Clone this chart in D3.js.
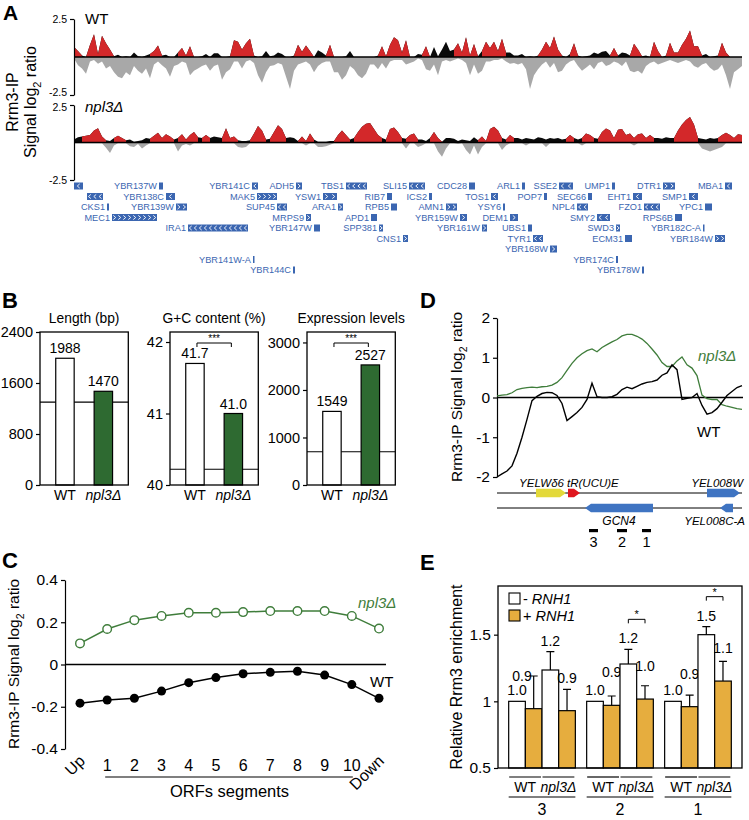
<!DOCTYPE html>
<html><head><meta charset="utf-8">
<script src="https://cdn.jsdelivr.net/npm/d3@7"></script>
<style>body{margin:0;background:#fff}</style>
</head><body>
<script>
// ======================= DATA =======================
// Panel A: Rrm3-IP signal (log2 ratio), binned along the chromosome region (bin index)
const wtPos = [0.65,0.4,0.1,0,0.8,1.5,0.2,1.4,0.9,0.5, 0.05,0.15,0,0.05,0,0.3,0.05,0,0.1,0.2,
 0.4,0.75,0.1,0.15,0,0,0.3,0.6,0.1,0.7, 0,0,0.05,0.2,0,0.25,0.25,0,0,0.05,
 1.1,1.0,0.5,0.9,1.2,0.1,0,0.05,0.4,0.05, 0.1,0.3,0.2,0,0,0.1,0.8,0.35,0.75,0.4,
 0,0.45,0.3,0.1,0.8,0,0,0,0.05,0.4, 0,0,0,0,0,0,0.1,0.7,0.05,0.8,
 1.3,1.1,0.3,1.1,0,0,0.2,0.15,0.7,0, 0.65,0.05,0.5,1.0,0.4,0.5,0.9,0.3,1.3,0.1,
 0.85,0.05,0.4,1.0,0.6,1.0,0.4,1.2,0.3,0.3, 0.1,0.1,0.2,0,0.05,0,0.1,0.5,1.0,0.6,
 1.35,0.5,0.1,0,0.2,0.9,0.1,0,0.05,0.1, 0.3,0.2,0.35,0.4,0.1,0.6,0.1,0.3,0.25,0.1,
 0.87,0.5,0.05,0.1,0,1.0,0.4,0,0.1,0.93, 0.3,0.3,0.8,1.2,1.74,0.7,0.7,0.1,0.2,0,
 0.05,0.1,0.93,0.3,0,0,0,0];
const wtNeg = [-0.1,-0.55,-0.75,-1.1,-0.3,-0.2,-0.45,-0.3,-0.75,-0.6, -1.0,-1.3,-1.4,-1.0,-1.2,-0.6,-0.9,-1.1,-0.75,-1.4,
 -0.5,-0.3,-0.55,-0.75,-1.3,-0.6,-0.5,-0.3,-0.4,-1.2, -0.9,-0.75,-0.6,-0.5,-0.9,-0.6,-0.5,-1.5,-1.0,-0.8,
 -0.3,-0.3,-0.75,-0.3,-0.2,-0.4,-1.2,-1.7,-1.0,-0.6, -0.55,-0.4,-0.5,-1.3,-2.1,-0.9,-0.5,-0.4,-0.3,-0.5,
 -1.0,-0.6,-0.4,-0.3,-0.3,-1.0,-1.0,-1.5,-1.2,-0.6, -0.8,-1.2,-1.4,-1.1,-0.5,-0.5,-0.8,-0.4,-0.75,-0.3,
 -0.2,-0.2,-0.2,-0.5,-0.4,-0.3,-0.1,-0.2,-0.8,-0.9, -0.5,-1.2,-0.3,-0.2,-0.3,-0.2,-0.1,-0.2,-0.4,-1.2,
 -0.5,-1.1,-0.9,-0.3,-0.3,-0.2,-0.2,-0.1,-0.3,-0.45, -0.4,-0.5,-0.4,-0.8,-2.1,-1.2,-0.8,-0.5,-0.3,-0.7,
 -0.4,-1.0,-0.9,-0.5,-0.3,-0.2,-0.6,-0.9,-0.7,-0.5, -0.8,-0.4,-0.3,-0.6,-0.5,-0.3,-0.4,-0.6,-0.3,-0.9,
 -1.0,-0.9,-1.1,-0.6,-0.4,-0.3,-0.5,-0.4,-0.3,-0.2, -0.3,-0.4,-0.3,-0.2,-0.3,-0.6,-0.7,-0.5,-0.4,-0.7,
 -0.9,-0.8,-0.5,-1.2,-2.1,-1.0,-0.8,-0.6];
const wtRed = [[0,1],[4,5],[7,9],[20,21],[27,27],[29,29],[40,44],[56,56],[58,59],[64,64],[77,77],[79,81],[83,83],
 [88,88],[96,98],[100,100],[103,105],[107,107],[117,121],[125,125],[135,135],[140,141],[145,146],[149,150],[152,156],[162,163]];
const npPos = [0.2,0.35,0.4,0.45,0.5,0.8,0.95,0.4,0.15,0.1, 0.3,0.45,0.3,0.15,0.2,0.05,0.1,0.15,0.3,0.25,
 0.45,0.65,0.3,0.55,0.4,0.2,0.3,0.55,0.2,0.5, 0.7,0.35,0.3,0.5,0.3,0.4,0.35,0.3,0.95,0.3,
 0.4,0.15,0.1,0.1,0.15,0.6,1.1,0.8,0.2,0.25, 0.7,1.15,0.9,0.3,0.35,0.3,0.1,0.4,0.1,0.6,
 0.2,0.05,0.05,0.05,0.1,0.1,0.5,0.8,0.5,0.2, 0.3,0.7,1.05,1.25,1.3,0.9,0.5,0.3,0.2,0.9,
 1.0,0.7,0.3,0.25,0.5,0.6,0.2,0.2,0.1,0.3, 0.7,0.3,0.05,0.3,0.3,0.25,0.1,0.2,0.15,0.1,
 0.35,0.15,0.4,0.1,0.9,1.05,0.8,0.3,0.2,0.5, 0.3,0.3,0.2,0.3,0.25,0.2,0.35,0.3,0.2,0.3,
 0.25,0.3,0.2,0.25,0.5,0.3,0.2,0.3,0.6,0.5, 0.3,0.25,0.7,0.93,0.8,0.3,0.85,0.9,0.5,0.6,
 0.3,0.55,0.6,0.3,0.5,0.3,0.3,0.25,0.35,0.3, 0.3,0.8,1.2,1.5,1.7,1.2,0.3,0.25,0.2,0.3,
 0.25,0.3,0.5,0.65,0.5,0.3,0.55,0.5];
const npNeg = [-0.05,-0.05,-0.05,-0.05,-0.05,-0.05,-0.05,-0.05,-0.35,-0.7, -0.2,-0.05,-0.05,-0.05,-0.25,-0.3,-0.1,-0.4,-0.2,-0.05,
 -0.05,-0.05,-0.05,-0.05,-0.05,-0.05,-0.6,-0.2,-0.1,-0.2, -0.05,-0.05,-0.05,-0.05,-0.05,-0.05,-0.05,-0.05,-0.05,-0.05,
 -0.05,-0.3,-0.35,-0.3,-0.05,-0.05,-0.05,-0.05,-0.05,-0.05, -0.05,-0.05,-0.05,-0.05,-0.05,-0.05,-0.05,-0.05,-0.2,-0.05,
 -0.05,-0.3,-0.3,-0.25,-0.15,-0.05,-0.05,-0.05,-0.05,-0.05, -0.05,-0.05,-0.05,-0.05,-0.05,-0.05,-0.05,-0.05,-0.05,-0.05,
 -0.05,-0.05,-0.05,-0.4,-0.05,-0.05,-0.3,-0.2,-0.05,-0.05, -0.05,-0.6,-0.95,-0.4,-0.05,-0.05,-0.1,-0.05,-0.5,-0.8,
 -0.2,-0.8,-0.3,-0.05,-0.05,-0.05,-0.05,-0.5,-0.2,-0.05, -0.05,-0.05,-0.05,-0.2,-0.05,-0.05,-0.05,-0.05,-0.3,-0.05,
 -0.05,-0.05,-0.05,-0.05,-0.05,-0.05,-0.05,-0.2,-0.05,-0.05, -0.05,-0.05,-0.05,-0.05,-0.05,-0.05,-0.05,-0.05,-0.05,-0.05,
 -0.2,-0.05,-0.05,-0.05,-0.05,-0.05,-0.05,-0.05,-0.05,-0.05, -0.05,-0.05,-0.05,-0.05,-0.05,-0.05,-0.05,-0.4,-0.5,-0.6,
 -0.5,-0.4,-0.3,-0.05,-0.05,-0.05,-0.05,-0.05];
const npRed = [[3,7],[11,12],[20,21],[23,24],[27,27],[29,30],[33,33],[38,38],[40,40],[45,47],[50,52],[57,57],[59,59],
 [66,68],[71,76],[79,81],[84,85],[90,91],[102,102],[104,106],[109,109],[124,124],[128,129],[132,134],[136,139],
 [141,142],[144,144],[151,155],[162,164],[166,167]];
const aTicks = [2.5, -2.5];

// Panel A genes (same bin coordinates as the tracks)
const geneName  = ['','YBR137W','YBR141C','ADH5','TBS1','SLI15','CDC28','ARL1','SSE2','UMP1','DTR1','MBA1',
  '','YBR138C','MAK5','YSW1','RIB7','ICS2','TOS1','POP7','SEC66','EHT1','SMP1',
  'CKS1','YBR139W','SUP45','ARA1','RPB5','AMN1','YSY6','NPL4','FZO1','YPC1',
  'MEC1','MRPS9','APD1','YBR159W','DEM1','SMY2','RPS6B',
  'IRA1','YBR147W','SPP381','YBR161W','UBS1','SWD3','YBR182C-A',
  'CNS1','TYR1','ECM31','YBR184W','YBR168W','YBR141W-A','YBR174C','YBR144C','YBR178W'];
const geneStart = [0,21.25,44.5,55.5,68,83.75,98.75,112,121.25,134.5,147.25,162.75,
  3.25,23,45.75,62.25,78.25,88.75,104.25,117.5,128.5,139.75,153.75,
  8.25,25.5,50.75,66,79.25,93,107.25,125.75,142.5,157.75,
  9.5,58,74.25,96.5,109,130.75,150.25,
  28.5,60,76.25,102,113.5,135.5,157.25,
  82.25,114.75,137.75,160.25,119,44.75,135.5,54.75,142];
const geneEnd   = [2.25,22.25,46,57,73.25,87.75,100.25,112.75,124.75,135.25,150.25,164.5,
  7.25,25.25,50.75,65.75,79.5,89.5,106,118.25,129.5,142,156,
  8.75,28.25,53.25,67.25,80.75,95.75,107.75,128.5,146.5,159.5,
  20.75,59.25,75.75,98.25,111,134,152,
  43.5,61.5,77.25,103.25,114.5,136.5,157.5,
  83.5,117.25,139.5,162.75,120.75,45,136,55.25,142.5];
const geneStrand = ['-','','-','+','-','-','','','-','','+','-',
  '-','-','+','+','','','-','','','-','-',
  '','+','-','+','','+','','-','-','',
  '+','+','','+','+','-','',
  '-','','+','+','','+','',
  '+','-','','+','+','','','',''];
const geneRow = [0,0,0,0,0,0,0,0,0,0,0,0, 1,1,1,1,1,1,1,1,1,1,1, 2,2,2,2,2,2,2,2,2,2,
  3,3,3,3,3,3,3, 4,4,4,4,4,4,4, 5,5,5,5, 6,7,7,8,8];

// Panel B
const bCats = ['WT', 'npl3Δ'];
const bTitles = ['Length (bp)', 'G+C content (%)', 'Expression levels'];
const bValues = [[1988, 1470], [41.7, 41.0], [1549, 2527]];
const bRefLine = [1300, 40.22, 700];
const bDomains = [[0, 2400], [40, 42.14], [0, 3220]];
const bTicks = [[0, 800, 1600, 2400], [40, 41, 42], [0, 1000, 2000, 3000]];
const bSig = ['', '***', '***'];

// Panel C
const cCats = ['Up','1','2','3','4','5','6','7','8','9','10','Down'];
const cNpl = [0.10,0.168,0.21,0.23,0.245,0.245,0.248,0.253,0.253,0.253,0.23,0.17];
const cWT  = [-0.183,-0.168,-0.16,-0.126,-0.086,-0.062,-0.044,-0.037,-0.032,-0.05,-0.095,-0.16];
const cTicks = [0.4, 0.2, 0, -0.2, -0.4];

// Panel D (position in bp across the GCN4 locus)
const dPos = [0,50,100,150,200,250,300,350,400,450,500,550,600,650,700,750,800,850,900,950,
  1000,1050,1100,1150,1200,1250,1300,1350,1400,1450,1500,1550,1600,1650,1700,1750,1800,1850,1900,1950,
  2000,2050,2100,2150,2200,2250,2300,2350,2400,2450];
const dNpl = [0.04,0.06,0.07,0.12,0.20,0.23,0.25,0.26,0.25,0.27,0.28,0.31,0.38,0.50,0.68,0.86,1.00,1.10,1.18,1.22,
  1.15,1.26,1.33,1.40,1.46,1.55,1.59,1.59,1.54,1.47,1.36,1.22,1.07,0.88,0.78,0.78,0.92,1.02,0.82,0.74,
  0.55,0.06,-0.03,-0.05,-0.05,-0.18,-0.22,-0.25,-0.28,-0.30];
const dWT = [-2.00,-1.92,-1.85,-1.72,-1.40,-1.00,-0.55,-0.08,0.03,0.10,0.13,0.12,0.05,-0.15,-0.58,-0.48,-0.38,-0.25,-0.05,0.36,
  0.02,0.00,0.00,0.02,0.08,0.20,0.26,0.22,0.28,0.34,0.38,0.40,0.44,0.56,0.62,0.82,0.70,-0.05,-0.02,0.00,
  0.10,-0.20,-0.42,-0.38,-0.28,-0.12,0.05,0.15,0.25,0.30];
const dTicks = [2, 1, 0, -1, -2];
const dFeatName  = ['YELWδ6', 'tR(UCU)E', 'YEL008W', 'GCN4', 'YEL008C-A'];
const dFeatStart = [390, 710, 2100, 880, 2230];
const dFeatEnd   = [690, 830, 2430, 1560, 2360];
const dFeatStrand = ['+', '+', '+', '-', '-'];
const dFeatLane  = [0, 0, 0, 1, 1];
const dPrimerName = ['3', '2', '1'];
const dPrimerStart = [920, 1200, 1450];
const dPrimerEnd = [1010, 1300, 1540];

// Panel E
const eGroups = ['3', '2', '1'];
const eSub = ['WT-', 'WT+', 'npl3-', 'npl3+'];
const eVals = [[1.0, 0.945, 1.235, 0.93], [1.0, 0.97, 1.28, 1.017], [1.0, 0.96, 1.5, 1.152]];
const eErr  = [[0, 0.245, 0.138, 0.16], [0, 0.07, 0.11, 0.10], [0, 0.087, 0.06, 0.148]];
const eLabels = [['1.0','0.9','1.2','0.9'], ['1.0','0.9','1.2','1.0'], ['1.0','0.9','1.5','1.1']];
const eSig = [false, true, true];
const eTicks = [0.5, 1, 1.5];

// ======================= DRAWING =======================
const F = '"Liberation Sans", Arial, Helvetica, sans-serif';
const svg = d3.select('body').append('svg').attr('width', 749).attr('height', 820)
  .style('font-family', F).style('display', 'block');
svg.append('rect').attr('width', 749).attr('height', 820).attr('fill', '#fff');

const GREEN_BAR = '#2e6a31', GREEN_LINE = '#3f7d3b', ORANGE = '#e6ad3e', GENE_BLUE = '#3b66b1';

function txt(g, x, y, t, size, o = {}) {
  const e = g.append('text').attr('x', x).attr('y', y).attr('font-size', size).text(t);
  if (o.anchor) e.attr('text-anchor', o.anchor);
  if (o.bold) e.attr('font-weight', 'bold');
  if (o.italic) e.attr('font-style', 'italic');
  if (o.fill) e.attr('fill', o.fill);
  if (o.rotate != null) e.attr('transform', `rotate(${o.rotate},${x},${y})`);
  return e;
}
function logTitle(g, x, y, pre, size) {
  const t = g.append('text').attr('transform', `translate(${x},${y}) rotate(-90)`)
    .attr('text-anchor', 'middle').attr('font-size', size);
  t.append('tspan').text(pre + 'log');
  t.append('tspan').attr('font-size', size * 0.68).attr('dy', size * 0.3).text('2');
  t.append('tspan').attr('dy', -size * 0.3).text(' ratio');
}
function styleAxis(sel, size) {
  sel.attr('font-family', F).attr('font-size', size);
  sel.selectAll('path,line').attr('stroke', '#000').attr('stroke-width', 1.2);
  sel.selectAll('text').attr('fill', '#000');
}
const fmt = d => String(d);

// ---------- Panel A ----------
const A = svg.append('g');
txt(A, 3, 20, 'A', 21, {bold: true});
const xA = d3.scaleLinear().domain([0, wtPos.length - 1]).range([74, 742]);
const yWT = d3.scaleLinear().domain([-2.5, 2.5]).range([95, 19]);
const yNP = d3.scaleLinear().domain([-2.5, 2.5]).range([180, 105]);

function drawTrack(pos, neg, reds, y, nudgeLow, nudgeHigh) {
  const area = d3.area().x(d => xA(d.i)).y0(y(0)).y1(d => y(d.v));
  const toD = arr => arr.map((v, i) => ({i, v}));
  A.append('path').attr('d', area(toD(neg))).attr('fill', '#a8a8a8');
  A.append('path').attr('d', area(toD(pos))).attr('fill', '#0a0a0a');
  const pd = toD(pos);
  reds.forEach(([a, b]) => {
    const lo = Math.max(0, a - 1), hi = Math.min(pos.length - 1, b + 1);
    A.append('path').attr('d', area(pd.slice(lo, hi + 1))).attr('fill', '#d3282a');
  });
  A.append('line').attr('x1', xA(0)).attr('x2', xA(pos.length - 1))
    .attr('y1', y(0)).attr('y2', y(0)).attr('stroke', '#000').attr('stroke-width', 1.6);
  const ax = A.append('g').attr('transform', 'translate(74,0)')
    .call(d3.axisLeft(y).tickValues(aTicks).tickSize(4).tickSizeOuter(0).tickFormat(fmt));
  styleAxis(ax, 10.5);
  // keep the adjacent tick labels of the two stacked tracks apart
  ax.selectAll('.tick text').attr('transform', d => `translate(0,${d < 0 ? nudgeLow : nudgeHigh})`);
}
drawTrack(wtPos, wtNeg, wtRed, yWT, -2.5, 0);
drawTrack(npPos, npNeg, npRed, yNP, 0, 2.5);
txt(A, 85, 24, 'WT', 15);
txt(A, 85, 112, 'npl3Δ', 15, {italic: true});
// y title (two lines)
A.append('text').attr('transform', 'translate(18,102) rotate(-90)').attr('text-anchor', 'middle')
  .attr('font-size', 16).text('Rrm3-IP');
logTitle(A, 36, 102, 'Signal ', 16);

// genes
const yRow = r => 186 + r * 10.5;
geneName.forEach((name, k) => {
  const x0 = xA(geneStart[k]), x1 = xA(geneEnd[k]);
  const w = Math.max(1.5, x1 - x0), cy = yRow(geneRow[k]);
  A.append('rect').attr('x', x0).attr('y', cy - 3.5).attr('width', w).attr('height', 7).attr('fill', GENE_BLUE);
  const s = geneStrand[k];
  if (s) {
    const n = Math.max(1, Math.floor(w / 5));
    const dir = s === '-' ? 1 : -1;
    for (let j = 0; j < n; j++) {
      const cx = x0 + (j + 0.5) * w / n;
      A.append('path').attr('d', `M${cx + 1.2 * dir},${cy - 2.1}L${cx - 1.2 * dir},${cy}L${cx + 1.2 * dir},${cy + 2.1}`)
        .attr('fill', 'none').attr('stroke', '#fff').attr('stroke-width', 0.9);
    }
  }
  if (name) txt(A, x0 - 2, cy + 3.3, name, 9.2, {anchor: 'end', fill: GENE_BLUE});
});

// ---------- Panel B ----------
const B = svg.append('g');
txt(B, 2, 308, 'B', 22, {bold: true});
const bX0 = [40, 170, 307], bW = 88.3, bTop = 332, bBot = 485;
bTitles.forEach((title, k) => {
  const x0 = bX0[k];
  const x = d3.scaleBand().domain(bCats).range([x0, x0 + bW]).paddingInner(0.52).paddingOuter(0.41);
  const y = d3.scaleLinear().domain(bDomains[k]).range([bBot, bTop]);
  B.append('line').attr('x1', x0).attr('x2', x0 + bW).attr('y1', y(bRefLine[k])).attr('y2', y(bRefLine[k]))
    .attr('stroke', '#000').attr('stroke-width', 1.2);
  bCats.forEach((c, i) => {
    const v = bValues[k][i];
    B.append('rect').attr('x', x(c)).attr('y', y(v)).attr('width', x.bandwidth()).attr('height', bBot - y(v))
      .attr('fill', i === 0 ? '#fff' : GREEN_BAR).attr('stroke', '#000').attr('stroke-width', 1.2);
    const lab = k === 1 ? d3.format('.1f')(v) : String(v);
    txt(B, x(c) + x.bandwidth() / 2, y(v) - 5, lab, 14, {anchor: 'middle'});
    txt(B, x(c) + x.bandwidth() / 2, 500, c, 14, {anchor: 'middle', italic: i === 1});
  });
  B.append('rect').attr('x', x0).attr('y', bTop).attr('width', bW).attr('height', bBot - bTop)
    .attr('fill', 'none').attr('stroke', '#000').attr('stroke-width', 1.3);
  const ax = B.append('g').attr('transform', `translate(${x0},0)`)
    .call(d3.axisLeft(y).tickValues(bTicks[k]).tickSize(4).tickSizeOuter(0).tickFormat(fmt));
  styleAxis(ax, 14.5);
  ax.select('.domain').remove();
  txt(B, x0 + bW / 2, 323, title, 13.8, {anchor: 'middle'});
  if (bSig[k]) {
    const xa = x(bCats[0]) + x.bandwidth() / 2 + 2, xb = x(bCats[1]) + x.bandwidth() / 2 - 2, yy = 343;
    B.append('path').attr('d', `M${xa},${yy + 4}V${yy}H${xb}V${yy + 4}`).attr('fill', 'none')
      .attr('stroke', '#000').attr('stroke-width', 1);
    txt(B, (xa + xb) / 2, yy - 1, bSig[k], 10, {anchor: 'middle'});
  }
});

// ---------- Panel C ----------
const C = svg.append('g');
txt(C, 2, 568, 'C', 22, {bold: true});
const xC = d3.scalePoint().domain(cCats).range([80, 379]);
const yC = d3.scaleLinear().domain([-0.4, 0.4]).range([749, 580]);
const axC = C.append('g').attr('transform', 'translate(65,0)')
  .call(d3.axisLeft(yC).tickValues(cTicks).tickSize(4).tickSizeOuter(0).tickFormat(fmt));
styleAxis(axC, 15.5);
C.append('line').attr('x1', 65).attr('x2', 386).attr('y1', yC(0)).attr('y2', yC(0))
  .attr('stroke', '#000').attr('stroke-width', 1.3);
const lineC = d3.line().x((d, i) => xC(cCats[i])).y(d => yC(d));
C.append('path').attr('d', lineC(cNpl)).attr('fill', 'none').attr('stroke', GREEN_LINE).attr('stroke-width', 1.5);
C.append('path').attr('d', lineC(cWT)).attr('fill', 'none').attr('stroke', '#000').attr('stroke-width', 1.5);
cNpl.forEach((v, i) => C.append('circle').attr('cx', xC(cCats[i])).attr('cy', yC(v)).attr('r', 4.3)
  .attr('fill', '#fff').attr('stroke', GREEN_LINE).attr('stroke-width', 1.4));
cWT.forEach((v, i) => C.append('circle').attr('cx', xC(cCats[i])).attr('cy', yC(v)).attr('r', 4.5).attr('fill', '#000'));
cCats.forEach((c, i) => {
  if (c === 'Up' || c === 'Down') {
    txt(C, xC(c) + 6, 762, c, 16, {anchor: 'end', rotate: -45});
  } else {
    txt(C, xC(c), 771, c, 16, {anchor: 'middle'});
  }
});
C.append('line').attr('x1', xC('1') - 2).attr('x2', xC('10') + 1).attr('y1', 777).attr('y2', 777)
  .attr('stroke', '#000').attr('stroke-width', 1.2);
txt(C, (xC('1') + xC('10')) / 2, 797, 'ORFs segments', 16.5, {anchor: 'middle'});
logTitle(C, 19, 664, 'Rrm3-IP Signal ', 15.5);
txt(C, 358, 608, 'npl3Δ', 15, {italic: true, fill: GREEN_LINE});
txt(C, 370, 687, 'WT', 15);

// ---------- Panel D ----------
const D = svg.append('g');
txt(D, 420, 308, 'D', 22, {bold: true});
const xD = d3.scaleLinear().domain([0, 2450]).range([497, 742]);
const yD = d3.scaleLinear().domain([-2, 2]).range([477, 318]);
const axD = D.append('g').attr('transform', 'translate(497,0)')
  .call(d3.axisLeft(yD).tickValues(dTicks).tickSize(4).tickSizeOuter(0).tickFormat(fmt));
styleAxis(axD, 15.5);
D.append('line').attr('x1', 497).attr('x2', 743).attr('y1', yD(0)).attr('y2', yD(0))
  .attr('stroke', '#000').attr('stroke-width', 1.3);
const lineD = vals => d3.line().x((d, i) => xD(dPos[i])).y(d => yD(d))(vals);
D.append('path').attr('d', lineD(dNpl)).attr('fill', 'none').attr('stroke', GREEN_LINE).attr('stroke-width', 1.3);
D.append('path').attr('d', lineD(dWT)).attr('fill', 'none').attr('stroke', '#000').attr('stroke-width', 1.4);
logTitle(D, 462, 397, 'Rrm3-IP Signal ', 15.5);
txt(D, 698, 361, 'npl3Δ', 15, {italic: true, fill: GREEN_LINE});
txt(D, 697, 437, 'WT', 15);
// gene map
const laneY = [493, 508];
laneY.forEach(ly => D.append('line').attr('x1', 497).attr('x2', 742).attr('y1', ly).attr('y2', ly)
  .attr('stroke', '#000').attr('stroke-width', 1));
const featColor = {'YELWδ6': '#e3d93a', 'tR(UCU)E': '#e0161e'};
dFeatName.forEach((n, k) => {
  const a = xD(dFeatStart[k]), b = xD(dFeatEnd[k]), ly = laneY[dFeatLane[k]], h = 4.2;
  const tip = Math.min(6, (b - a) / 2);
  const d = dFeatStrand[k] === '+'
    ? `M${a},${ly - h}L${b - tip},${ly - h}L${b},${ly}L${b - tip},${ly + h}L${a},${ly + h}Z`
    : `M${b},${ly - h}L${a + tip},${ly - h}L${a},${ly}L${a + tip},${ly + h}L${b},${ly + h}Z`;
  D.append('path').attr('d', d).attr('fill', featColor[n] || '#3f74c2');
});
txt(D, 564, 487, 'YELWδ6', 11.5, {anchor: 'end', italic: true});
txt(D, 567, 487, 'tR(UCU)E', 11.5, {italic: true});
txt(D, 743, 487, 'YEL008W', 11.5, {anchor: 'end', italic: true});
txt(D, (xD(dFeatStart[3]) + xD(dFeatEnd[3])) / 2, 525, 'GCN4', 12, {anchor: 'middle', italic: true});
txt(D, 745, 525, 'YEL008C-A', 11.5, {anchor: 'end', italic: true});
dPrimerName.forEach((n, k) => {
  const a = xD(dPrimerStart[k]), b = xD(dPrimerEnd[k]);
  D.append('rect').attr('x', a).attr('y', 529).attr('width', b - a).attr('height', 3.2).attr('fill', '#000');
  txt(D, (a + b) / 2, 547, n, 14.5, {anchor: 'middle'});
});

// ---------- Panel E ----------
const E = svg.append('g');
txt(E, 420, 570, 'E', 22, {bold: true});
const eL = 498, eR = 742, eTop = 586, eBot = 768;
const xE = d3.scaleBand().domain(eGroups).range([eL, eR]).paddingInner(0.145).paddingOuter(0.137);
const xE2 = d3.scaleBand().domain(eSub).range([0, xE.bandwidth()]);
const yE = d3.scaleLinear().domain([0.5, 1.865]).range([eBot, eTop]);
eGroups.forEach((g, gi) => {
  const gx = xE(g);
  eSub.forEach((s, si) => {
    const v = eVals[gi][si], er = eErr[gi][si];
    const bx = gx + xE2(s), bw = xE2.bandwidth(), cx = bx + bw / 2;
    E.append('rect').attr('x', bx).attr('y', yE(v)).attr('width', bw).attr('height', eBot - yE(v))
      .attr('fill', si % 2 === 0 ? '#fff' : ORANGE).attr('stroke', '#000').attr('stroke-width', 1.2);
    if (er > 0) {
      E.append('path').attr('d', `M${cx},${yE(v)}V${yE(v + er)}M${cx - 4},${yE(v + er)}H${cx + 4}`)
        .attr('stroke', '#000').attr('stroke-width', 1.2).attr('fill', 'none');
    }
    if (si % 2 === 0) {
      txt(E, cx, yE(v + er) - 6, eLabels[gi][si], 14, {anchor: 'middle'});
    } else {
      // +RNH1 labels sit higher, clear of the -RNH1 labels; beside the error cap when it reaches them
      const ly = yE(v) - 28, capY = yE(v + er);
      if (capY < ly + 2) txt(E, cx - 2, ly, eLabels[gi][si], 14, {anchor: 'end'});
      else txt(E, cx, ly, eLabels[gi][si], 14, {anchor: 'middle'});
    }
  });
  if (eSig[gi]) {
    const c2 = gx + xE2('npl3-') + xE2.bandwidth() / 2, c3 = gx + xE2('npl3+') + xE2.bandwidth() / 2;
    const yy = yE(Math.max(eVals[gi][2] + eErr[gi][2], eVals[gi][3] + eErr[gi][3])) - 30;
    E.append('path').attr('d', `M${c2},${yy + 4}V${yy}H${c3}V${yy + 4}`).attr('fill', 'none')
      .attr('stroke', '#000').attr('stroke-width', 1);
    txt(E, (c2 + c3) / 2, yy - 1, '*', 11, {anchor: 'middle'});
  }
  // x-axis grouping labels
  const bw = xE2.bandwidth();
  [['WT', 0], ['npl3Δ', 2]].forEach(([lab, si]) => {
    const a = gx + xE2(eSub[si]) + 0.5, b = a + 2 * bw - 1.5;
    E.append('line').attr('x1', a).attr('x2', b).attr('y1', 777).attr('y2', 777).attr('stroke', '#000').attr('stroke-width', 1.2);
    txt(E, (a + b) / 2, 792, lab, 14, {anchor: 'middle', italic: si === 2});
  });
  E.append('line').attr('x1', gx).attr('x2', gx + xE.bandwidth()).attr('y1', 797).attr('y2', 797)
    .attr('stroke', '#000').attr('stroke-width', 1.2);
  txt(E, gx + xE.bandwidth() / 2, 815, g, 16, {anchor: 'middle'});
});
E.append('rect').attr('x', eL).attr('y', eTop).attr('width', eR - eL).attr('height', eBot - eTop)
  .attr('fill', 'none').attr('stroke', '#000').attr('stroke-width', 1.3);
const axE = E.append('g').attr('transform', `translate(${eL},0)`)
  .call(d3.axisLeft(yE).tickValues(eTicks).tickSize(4).tickSizeOuter(0).tickFormat(fmt));
styleAxis(axE, 15.5);
axE.select('.domain').remove();
E.append('text').attr('transform', 'translate(462,677) rotate(-90)').attr('text-anchor', 'middle')
  .attr('font-size', 16).text('Relative Rrm3 enrichment');
// legend
[['#fff', '- '], [ORANGE, '+ ']].forEach(([col, sign], i) => {
  const ly = 593 + i * 17;
  E.append('rect').attr('x', 509).attr('y', ly).attr('width', 11).attr('height', 11)
    .attr('fill', col).attr('stroke', '#000').attr('stroke-width', 1.1);
  const t = E.append('text').attr('x', 523).attr('y', ly + 10.5).attr('font-size', 14.5);
  t.append('tspan').text(sign);
  t.append('tspan').attr('font-style', 'italic').text('RNH1');
});
</script>
</body></html>
